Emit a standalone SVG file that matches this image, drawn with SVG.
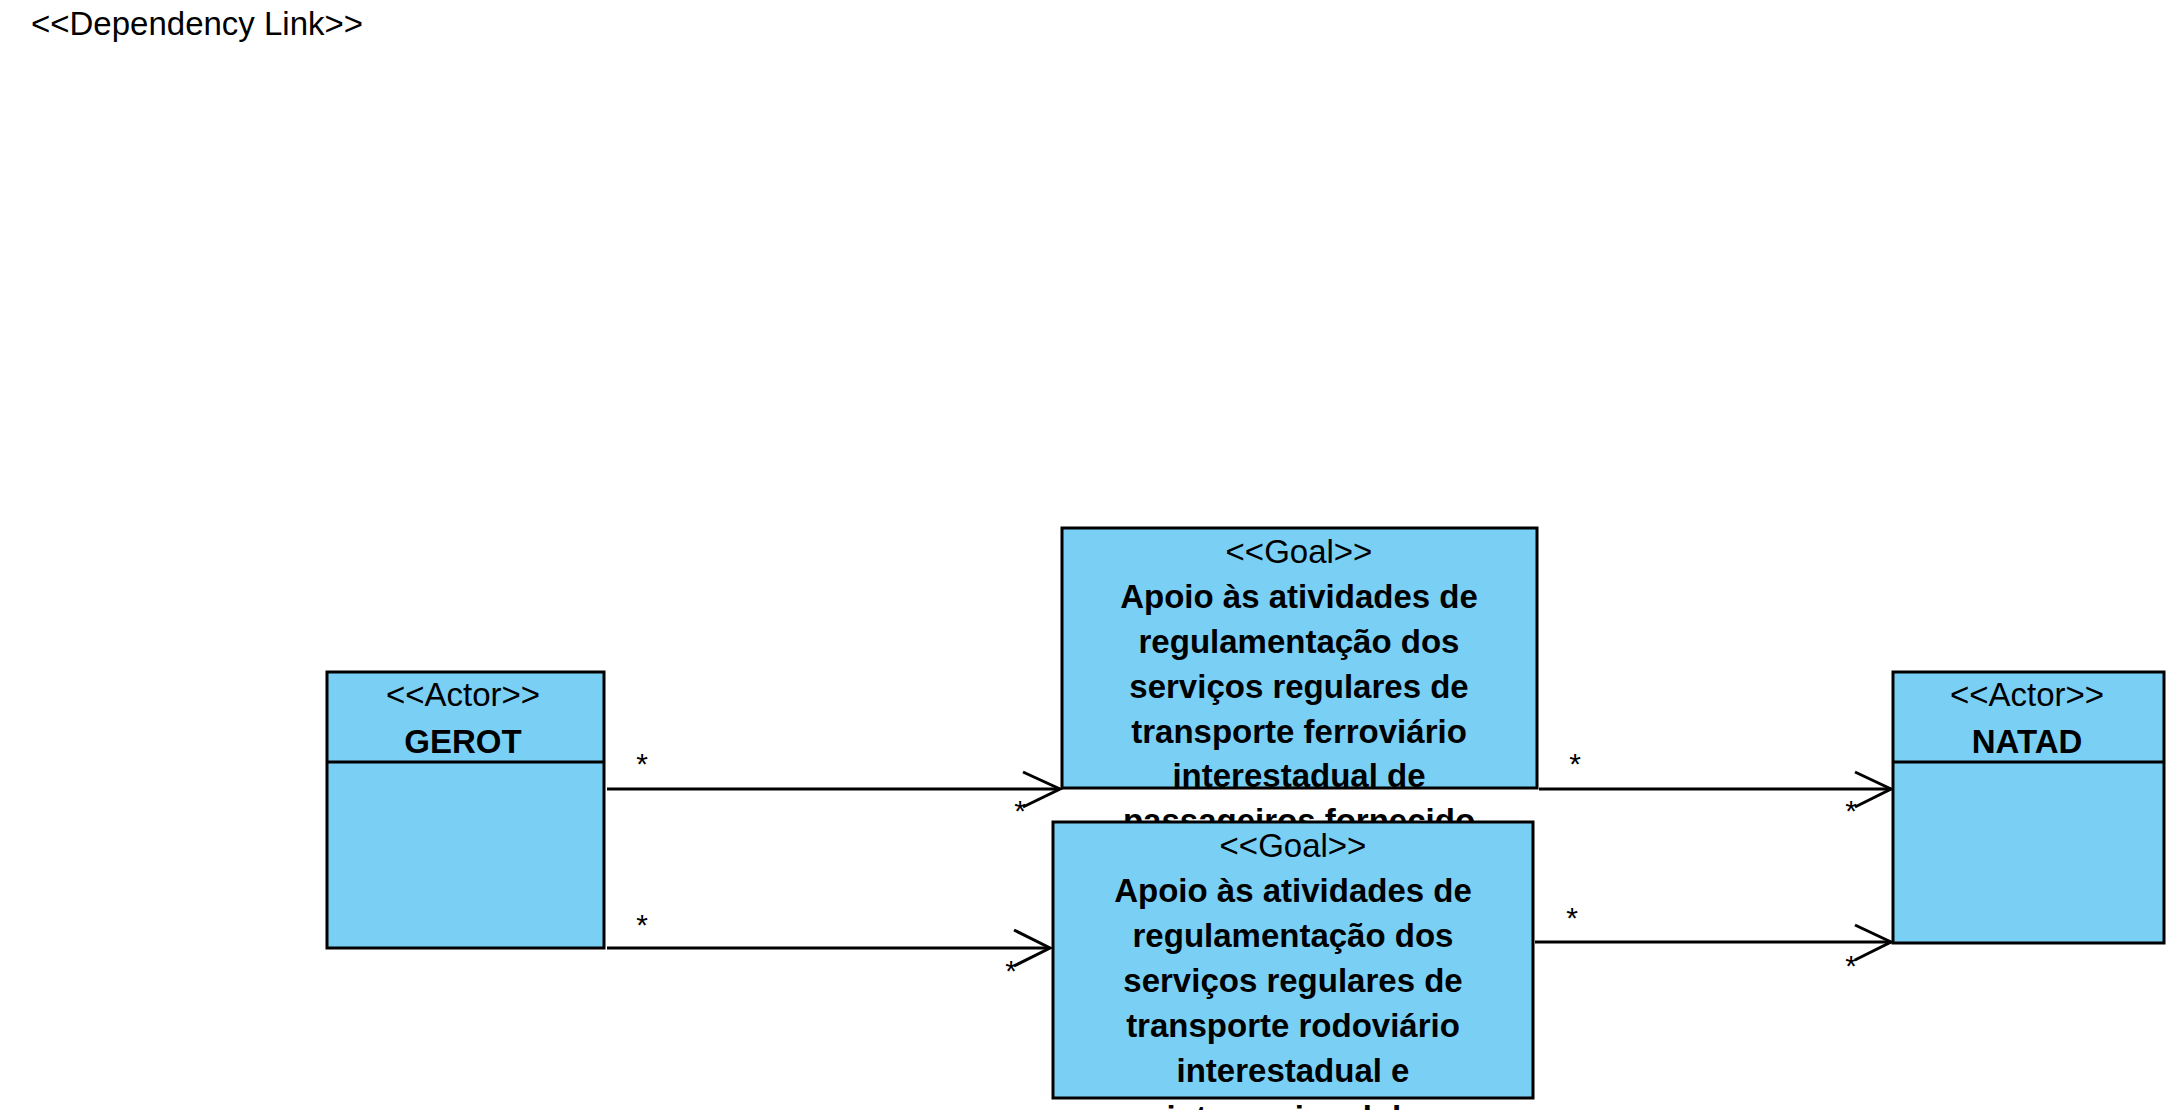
<svg xmlns="http://www.w3.org/2000/svg" width="2175" height="1110" viewBox="0 0 2175 1110">
<style>
.box{fill:#7ACFF5;stroke:#000;stroke-width:3}
.ln{stroke:#000;stroke-width:3;fill:none}
.st{font-family:"Liberation Sans",Arial,sans-serif;font-size:33px;fill:#000;text-anchor:middle}
.nm{font-family:"Liberation Sans",Arial,sans-serif;font-size:33px;font-weight:bold;fill:#000;text-anchor:middle}
.mult{font-family:"Liberation Sans",Arial,sans-serif;font-size:30px;fill:#000;text-anchor:middle}
.title{font-family:"Liberation Sans",Arial,sans-serif;font-size:33px;fill:#000}
</style>
<rect width="2175" height="1110" fill="#fff"/>
<text class="title" x="31" y="35">&lt;&lt;Dependency Link&gt;&gt;</text>

<g id="connectors">
  <g id="c1">
    <line class="ln" x1="607" y1="789" x2="1060" y2="789"/>
    <polyline class="ln" points="1023,772 1060,789 1023,807"/>
    <text class="mult" x="642" y="774">*</text>
    <text class="mult" x="1020" y="821">*</text>
  </g>
  <g id="c2">
    <line class="ln" x1="607" y1="948" x2="1050" y2="948"/>
    <polyline class="ln" points="1014,930 1050,948 1014,966"/>
    <text class="mult" x="642" y="935">*</text>
    <text class="mult" x="1011" y="981">*</text>
  </g>
  <g id="c3">
    <line class="ln" x1="1539" y1="789" x2="1891" y2="789"/>
    <polyline class="ln" points="1855,772 1891,789 1855,807"/>
    <text class="mult" x="1575" y="774">*</text>
    <text class="mult" x="1851" y="821">*</text>
  </g>
  <g id="c4">
    <line class="ln" x1="1535" y1="942" x2="1891" y2="942"/>
    <polyline class="ln" points="1855,925 1891,942 1855,960"/>
    <text class="mult" x="1572" y="928">*</text>
    <text class="mult" x="1851" y="976">*</text>
  </g>
</g>

<g id="GEROT">
  <rect class="box" x="327" y="672" width="277" height="276"/>
  <line class="ln" x1="327" y1="762" x2="604" y2="762"/>
  <text class="st" x="463" y="706">&lt;&lt;Actor&gt;&gt;</text>
  <text class="nm" x="463" y="753">GEROT</text>
</g>

<g id="NATAD">
  <rect class="box" x="1893" y="672" width="271" height="271"/>
  <line class="ln" x1="1893" y1="762" x2="2164" y2="762"/>
  <text class="st" x="2027" y="706">&lt;&lt;Actor&gt;&gt;</text>
  <text class="nm" x="2027" y="753">NATAD</text>
</g>

<g id="goal1">
  <rect class="box" x="1062" y="528" width="475" height="260"/>
  <text class="st" x="1299" y="563">&lt;&lt;Goal&gt;&gt;</text>
  <text class="nm" x="1299" y="608">Apoio às atividades de</text>
  <text class="nm" x="1299" y="653">regulamentação dos</text>
  <text class="nm" x="1299" y="698">serviços regulares de</text>
  <text class="nm" x="1299" y="743">transporte ferroviário</text>
  <text class="nm" x="1299" y="787">interestadual de</text>
  <text class="nm" x="1299" y="832">passageiros fornecido</text>
</g>

<g id="goal2">
  <rect class="box" x="1053" y="822" width="480" height="276"/>
  <text class="st" x="1293" y="857">&lt;&lt;Goal&gt;&gt;</text>
  <text class="nm" x="1293" y="902">Apoio às atividades de</text>
  <text class="nm" x="1293" y="947">regulamentação dos</text>
  <text class="nm" x="1293" y="992">serviços regulares de</text>
  <text class="nm" x="1293" y="1037">transporte rodoviário</text>
  <text class="nm" x="1293" y="1082">interestadual e</text>
  <text class="nm" x="1293" y="1129">internacional de</text>
</g>
</svg>
